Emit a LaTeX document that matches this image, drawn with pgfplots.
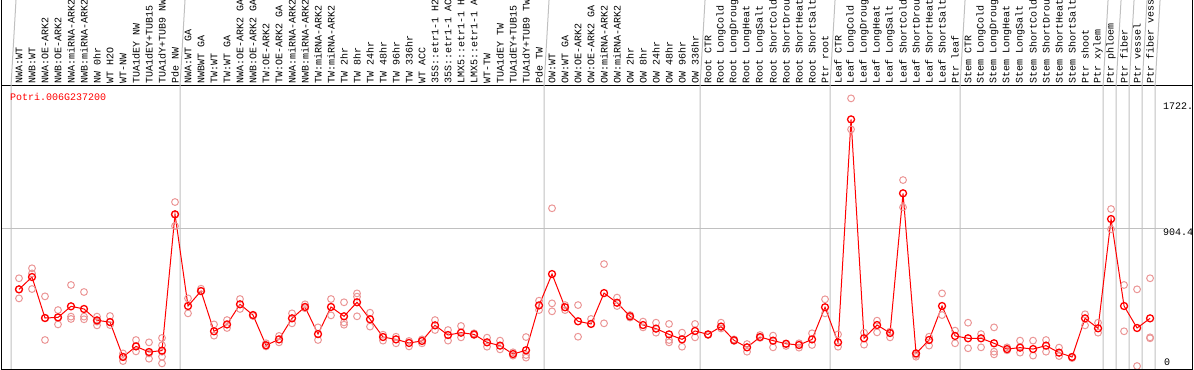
\documentclass[border=0pt]{standalone}
\usepackage{fontspec}
\setmonofont{Liberation Mono}
\usepackage{pgfplots}
\pgfplotsset{compat=1.18}
\definecolor{mred}{RGB}{255,0,0}
\definecolor{rep}{RGB}{235,150,150}
\definecolor{gl}{RGB}{192,192,192}
\begin{document}
\begin{tikzpicture}
\useasboundingbox (0,0) rectangle (1194bp,370bp);
\begin{axis}[at={(1bp,1bp)}, anchor=south west, scale only axis,
  width=1191bp, height=283bp,
  xmin=-0.3846, xmax=91.23, ymin=0, ymax=1815.3,
  xtick=\empty, ytick=\empty,
  axis line style={black, line width=1bp}, clip=false]
\pgfplotsinvokeforeach{0.385,13.385,41.385,53.385,63.385,73.385,84.385,85.385,86.385,87.385,88.385}{
  \draw[gl, line width=1bp] (axis cs:#1,0) -- (axis cs:#1,1815.3) -- ++(0,86bp);
}
\draw[gl, line width=1bp] (axis cs:-0.3846,904.4) -- (axis cs:89.05,904.4);
\addplot[only marks, mark=o, mark size=3.4bp, rep, mark options={line width=1bp}] table {
x y
1 582
1 511
1 453
2 646
2 613
2 513
3 466
3 327
3 186
4 378
4 331
4 286
5 539
5 336
5 321
6 494
6 336
6 319
7 336
7 304
7 280
8 340
8 301
8 282
9 100
9 79
9 51
10 186
10 145
10 113
11 171
11 100
11 66
12 199
12 152
12 111
12 79
12 36
13 1071
13 992
13 917
14 453
14 357
15 515
15 500
16 286
16 214
17 314
17 263
18 449
18 385
19 346
19 340
20 165
20 152
20 145
21 212
21 171
22 357
22 293
23 415
23 390
24 267
24 186
25 449
25 344
26 428
26 299
26 284
27 485
27 464
27 338
28 361
28 272
29 220
29 182
30 207
30 165
31 180
31 145
32 190
32 165
33 314
33 250
34 250
34 182
35 276
35 203
36 229
36 218
37 201
37 143
38 182
38 126
39 107
39 86
40 205
40 90
40 73
41 438
41 378
42 1031
42 421
42 370
43 410
43 378
44 410
44 207
45 321
45 289
46 673
46 293
47 458
47 404
48 346
48 330
49 304
49 267
50 297
50 233
51 289
51 186
51 171
52 233
52 143
53 289
53 203
54 222
54 218
55 297
55 260
56 190
56 180
57 160
57 111
58 218
58 200
59 214
59 139
60 148
60 160
61 165
61 137
62 229
62 154
63 447
63 357
64 222
64 143
65 1736
65 1537
66 233
66 156
67 310
67 235
68 203
68 240
69 1212
69 1037
70 79
70 90
71 207
71 150
72 485
72 346
73 246
73 165
74 297
74 133
75 224
75 139
76 267
76 111
76 94
77 139
77 120
78 182
78 105
79 182
79 86
80 186
80 111
81 137
81 83
82 77
82 70
83 351
83 280
84 297
84 233
85 1026
85 896
86 539
86 242
87 511
87 19
88 582
88 203
88 197
};
\addplot[mred, line width=1bp, mark=o, mark size=3.5bp, mark options={line width=1.3bp}] table {
x y
1 511
2 590
3 327
4 331
5 402
6 385
7 312
8 301
9 77
10 145
11 109
12 118
13 992
14 404
15 500
16 242
17 286
18 415
19 346
20 152
21 190
22 325
23 398
24 224
25 398
26 338
27 428
28 319
29 205
30 190
31 167
32 180
33 280
34 218
35 233
36 222
37 171
38 150
39 96
40 120
41 408
42 609
43 396
44 306
45 289
46 487
47 425
48 338
49 282
50 259
51 222
52 190
53 244
54 222
55 272
56 184
57 139
58 205
59 182
60 162
61 154
62 190
63 396
64 171
65 1601
66 197
67 282
68 231
69 1127
70 100
71 186
72 404
73 212
74 197
75 197
76 165
77 128
78 137
79 128
80 150
81 105
82 77
83 325
84 261
85 962
86 404
87 263
88 325
};
\end{axis}
\draw[black, line width=1bp] (1bp,370bp) -- (1bp,1bp) -- (1192bp,1bp) -- (1192bp,370bp);
\begingroup
\ttfamily\fontsize{10bp}{12bp}\selectfont
\foreach \l [count=\i] in {NWA:WT,NWB:WT,NWA:OE-ARK2,NWB:OE-ARK2,NWA:miRNA-ARK2,NWB:miRNA-ARK2,NW 0hr,WT H2O,WT-NW,TUA1dEY NW,TUA1dEY+TUB15,TUA1dY+TUB9 NW,Pde NW,
NWA:WT GA,NWBWT GA,TW:WT,TW:WT GA,NWA:OE-ARK2 GA,NWB:OE-ARK2 GA,TW:OE-ARK2,TW:OE-ARK2 GA,NWA:miRNA-ARK2,NWB:miRNA-ARK2,TW:miRNA-ARK2,TW:miRNA-ARK2,TW 2hr,TW 8hr,TW 24hr,TW 48hr,TW 96hr,TW 336hr,WT ACC,35S::etr1-1 H2,35S::etr1-1 AC,LMX5::etr1-1 H,LMX5::etr1-1 A,WT-TW,TUA1dEY TW,TUA1dEY+TUB15,TUA1dY+TUB9 TW,Pde TW,
OW:WT,OW:WT GA,OW:OE-ARK2,OW:OE-ARK2 GA,OW:miRNA-ARK2,OW:miRNA-ARK2,OW 2hr,OW 8hr,OW 24hr,OW 48hr,OW 96hr,OW 336hr,
Root CTR,Root LongCold,Root LongDroug,Root LongHeat,Root LongSalt,Root ShortCold,Root ShortDrou,Root ShortHeat,Root ShortSalt,Ptr root,
Leaf CTR,Leaf LongCold,Leaf LongDroug,Leaf LongHeat,Leaf LongSalt,Leaf ShortCold,Leaf ShortDrou,Leaf ShortHeat,Leaf ShortSalt,Ptr leaf,
Stem CTR,Stem LongCold,Stem LongDroug,Stem LongHeat,Stem LongSalt,Stem ShortCold,Stem ShortDrou,Stem ShortHeat,Stem ShortSalt,Ptr shoot,Ptr xylem,Ptr phloem,Ptr fiber,Ptr vessel,Ptr fiber vess}{
  \node[rotate=90, anchor=west, inner sep=0pt] at ({(19+13*(\i-1))*1bp}, 286bp) {\l};
}
\node[anchor=north west, inner sep=0pt, text=mred] at (10bp,277bp) {Potri.006G237200};
\node[anchor=north west, inner sep=0pt] at (1163bp,267bp) {1722.};
\node[anchor=north west, inner sep=0pt] at (1163bp,141bp) {904.4};
\node[anchor=north west, inner sep=0pt] at (1164bp,11bp) {0};
\endgroup
\end{tikzpicture}
\end{document}
